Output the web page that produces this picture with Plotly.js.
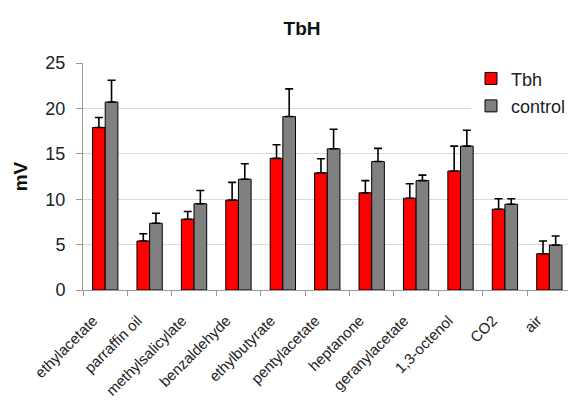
<!DOCTYPE html>
<html>
<head>
<meta charset="utf-8">
<script src="https://cdn.plot.ly/plotly-3.0.1.min.js"></script>
<style>html,body{margin:0;padding:0;background:#fff;}#chart{width:571px;height:400px;}</style>
</head>
<body>
<div id="chart"></div>
<script>
const categories = ["ethylacetate","parraffin oil","methylsalicylate","benzaldehyde","ethylbutyrate","pentylacetate","heptanone","geranylacetate","1,3-octenol","CO2","air"];
const tbhValues = [17.9, 5.4, 7.8, 9.9, 14.5, 12.9, 10.7, 10.1, 13.1, 8.9, 4.0];
const tbhErr = [1.1, 0.8, 0.85, 1.95, 1.5, 1.55, 1.35, 1.6, 2.75, 1.15, 1.4];
const controlValues = [20.7, 7.35, 9.5, 12.2, 19.1, 15.55, 14.15, 12.05, 15.85, 9.45, 4.95];
const controlErr = [2.4, 1.1, 1.45, 1.7, 3.05, 2.15, 1.45, 0.6, 1.75, 0.6, 1.0];
const yTicks = [0, 5, 10, 15, 20, 25];

const FONT = "Liberation Sans, Arial, sans-serif";
const zeros = categories.map(() => 0);

function errBar(arr) {
  return {type: "data", array: arr, arrayminus: zeros, symmetric: false,
          color: "#000", thickness: 1.6, width: 4};
}

const traces = [
  {type: "bar", name: "Tbh", x: categories, y: tbhValues, legendgroup: "a",
   marker: {color: "#ff0000", line: {color: "#000", width: 1}},
   error_y: errBar(tbhErr)},
  {type: "bar", name: "control", x: categories, y: controlValues, legendgroup: "b",
   marker: {color: "#808080", line: {color: "#000", width: 1}},
   error_y: errBar(controlErr)}
];

const layout = {
  width: 571, height: 400,
  margin: {l: 83, r: 0, t: 63, b: 110},
  paper_bgcolor: "#fff", plot_bgcolor: "#fff",
  font: {family: FONT, color: "#222"},
  title: {text: "<b>TbH</b>", font: {family: FONT, size: 19, color: "#111"},
          x: 0.529, xanchor: "center", y: 0.928, yanchor: "middle", xref: "container", yref: "container"},
  barmode: "group", bargap: 0.43, bargroupgap: 0,
  showlegend: true,
  legend: {x: 0.8, xanchor: "left", y: 1.012, yanchor: "top",
           bgcolor: "#fff", borderwidth: 0, font: {family: FONT, size: 18, color: "#222"},
           traceorder: "grouped", tracegroupgap: 1},
  xaxis: {type: "category", range: [-0.5, 10.42], showgrid: false,
          showline: true, linecolor: "#999", linewidth: 1,
          ticks: "outside", tickson: "boundaries", ticklen: 5, tickcolor: "#999",
          tickangle: -45, tickfont: {family: FONT, size: 15, color: "#222"},
          ticklabelshift: -12, ticklabelstandoff: 15},
  yaxis: {range: [0, 25], tickvals: yTicks, ticktext: yTicks.map(String),
          showgrid: true, gridcolor: "#d9d9d9", gridwidth: 1,
          showline: true, linecolor: "#999", linewidth: 1, zeroline: false,
          ticks: "outside", ticklen: 6, tickcolor: "#999", ticklabelstandoff: 7,
          tickfont: {family: FONT, size: 18, color: "#222"},
          title: {text: "<b>mV</b>", font: {family: FONT, size: 19, color: "#111"}, standoff: 12}}
};

Plotly.newPlot("chart", traces, layout, {displayModeBar: false, staticPlot: true});
</script>
</body>
</html>
